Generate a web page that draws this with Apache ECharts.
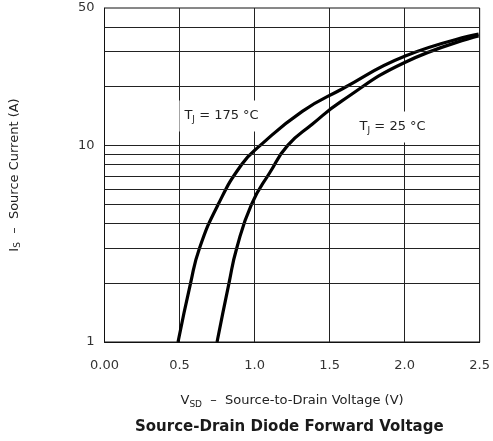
<!DOCTYPE html>
<html>
<head>
<meta charset="utf-8">
<script src="https://cdn.jsdelivr.net/npm/echarts@6/dist/echarts.min.js"></script>
<style>
  html, body { margin: 0; padding: 0; background: #fff; }
  #main { width: 493px; height: 441px; }
</style>
</head>
<body>
<div id="main"></div>
<script>
// Vsd (V) vs Is (A)
var curve175 = [[0.49,1],[0.574,2],[0.633,3],[0.757,5],[0.914,8],[1.038,10],[1.318,14.9],[1.58,19.3],[2.004,28.5],[2.493,36.8]]
var curve25 = [[0.75,1],[0.83,2],[0.881,3],[0.979,5],[1.103,7.3],[1.221,10],[1.384,12.8],[1.58,16.8],[2.004,26.5],[2.493,36.0]]
var yGrid = [2, 3, 4, 5, 6, 7, 8, 9, 10, 20, 30, 40]
var yLabels = [1, 10, 50]
var label175 = [0.78, 14.1]
var label25 = [1.92, 12.4]

var chart = echarts.init(document.getElementById('main'))
var font = 'DejaVu Sans, sans-serif'
var rich = {
  n: { fontSize: 13, color: '#222', fontFamily: font },
  s: { fontSize: 9, color: '#222', fontFamily: font, verticalAlign: 'bottom', padding: [8, 0, 0, 0] }
}
function tjLabel (pt, temp) {
  return {
    coord: pt,
    symbolSize: 0,
    label: {
      show: true,
      position: 'inside',
      formatter: '{n|T}{s|J}{n| = ' + temp + ' °C}',
      backgroundColor: '#fff',
      padding: [7, 5, 7, 5],
      rich: rich
    }
  }
}
var nameRich = {
  n: { fontSize: 13, color: '#222', fontFamily: font },
  s: { fontSize: 9, color: '#222', fontFamily: font, verticalAlign: 'bottom', padding: [7, 0, 0, 0] }
}

var option = {
  animation: false,
  title: {
    text: 'Source-Drain Diode Forward Voltage',
    left: 130,
    top: 415,
    textStyle: { fontSize: 15, fontWeight: 'bold', color: '#1a1a1a', fontFamily: font }
  },
  grid: {
    left: 103, right: 7, top: 8, bottom: 99,
    show: true, borderColor: '#111', borderWidth: 1
  },
  xAxis: {
    type: 'value',
    min: 0, max: 2.5, interval: 0.5,
    name: '{n|V}{s|SD}{n|  –  Source-to-Drain Voltage (V)}',
    nameLocation: 'middle',
    nameGap: 51,
    nameTextStyle: { rich: nameRich },
    axisLine: { show: true, lineStyle: { color: '#111', width: 1 } },
    axisTick: { show: false },
    splitLine: { show: true, lineStyle: { color: '#222', width: 1 } },
    axisLabel: {
      margin: 17, fontSize: 13, color: '#333', fontFamily: font,
      formatter: function (v) { return v === 0 ? '0.00' : v.toFixed(1) }
    }
  },
  yAxis: {
    type: 'log',
    logBase: 10,
    min: 1, max: 50,
    name: '{n|I}{s|S}{n|  –  Source Current (A)}',
    nameLocation: 'middle',
    nameGap: 82,
    nameTextStyle: { rich: nameRich },
    axisLine: { show: true, lineStyle: { color: '#111', width: 1 } },
    axisTick: { show: false },
    splitLine: { show: false },
    axisLabel: {
      margin: 10, fontSize: 13, color: '#333', fontFamily: font,
      customValues: yLabels
    }
  },
  series: [
    {
      type: 'line',
      data: [],
      silent: true,
      markLine: {
        silent: true,
        symbol: 'none',
        label: { show: false },
        lineStyle: { color: '#222', width: 1, type: 'solid' },
        data: yGrid.map(function (v) { return { yAxis: v } })
      }
    },
    {
      name: 'TJ = 175 °C',
      type: 'line',
      data: curve175,
      smooth: 0.5,
      showSymbol: false,
      lineStyle: { color: '#000', width: 3.2 },
      markPoint: { silent: true, symbol: 'circle', data: [tjLabel(label175, 175)] }
    },
    {
      name: 'TJ = 25 °C',
      type: 'line',
      data: curve25,
      smooth: 0.5,
      showSymbol: false,
      lineStyle: { color: '#000', width: 3.2 },
      markPoint: { silent: true, symbol: 'circle', data: [tjLabel(label25, 25)] }
    }
  ]
}
chart.setOption(option)
</script>
</body>
</html>
